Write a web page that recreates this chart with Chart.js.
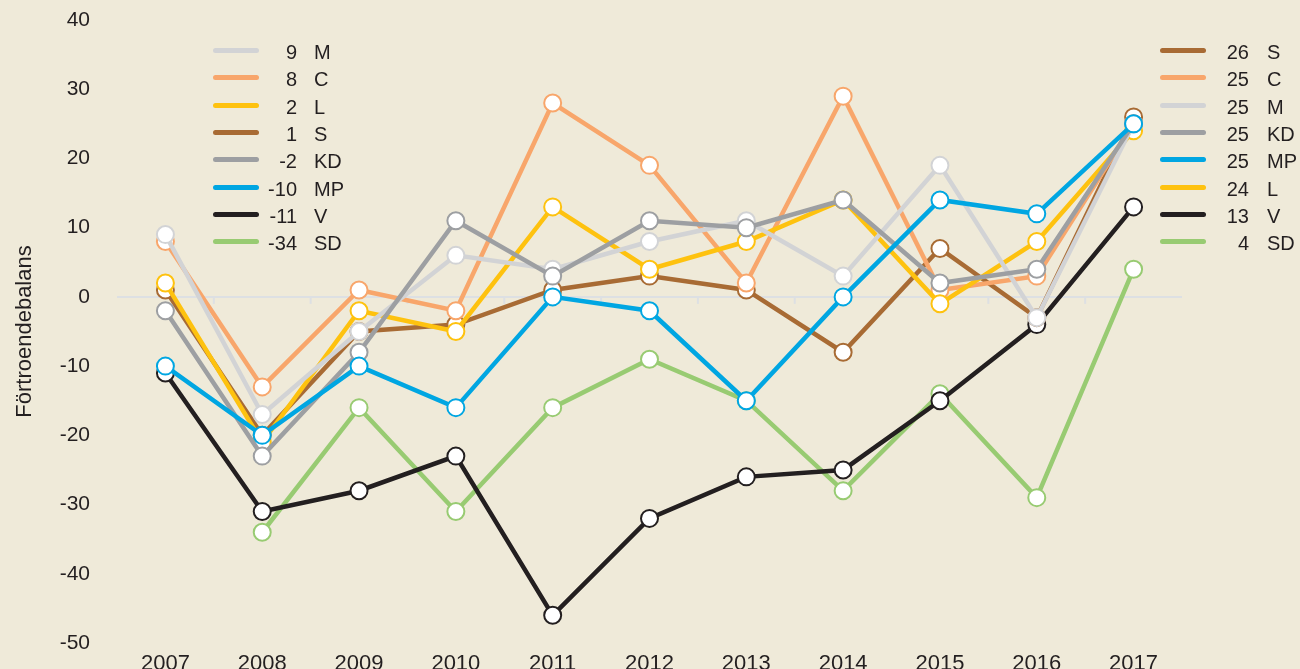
<!DOCTYPE html>
<html>
<head>
<meta charset="utf-8">
<script src="https://cdn.jsdelivr.net/npm/chart.js@4"></script>
<style>
  html, body { margin: 0; padding: 0; background: #efead9; }
  #wrap { position: relative; width: 1300px; height: 669px; overflow: hidden; }
  canvas { position: absolute; left: 0; top: 0; }
  .legend { position: absolute; font-family: "Liberation Sans", Arial, sans-serif; font-size: 20px; color: #231f20; }
  .row { position: absolute; height: 22px; line-height: 22px; white-space: nowrap; }
  .swatch { position: absolute; top: 7px; width: 46px; height: 5px; border-radius: 3px; }
  .val { position: absolute; text-align: right; left: 0; }
  .name { position: absolute; }
</style>
</head>
<body>
<div id="wrap">
  <canvas id="chart" width="1300" height="669"></canvas>
  <div class="legend" id="legendLeft"></div>
  <div class="legend" id="legendRight"></div>
</div>
<script>
const years = ['2007', '2008', '2009', '2010', '2011', '2012', '2013', '2014', '2015', '2016', '2017'];

const valuesS  = [1, -20, -5, -4, 1, 3, 1, -8, 7, -3, 26];
const valuesC  = [8, -13, 1, -2, 28, 19, 2, 29, 1, 3, 25];
const valuesM  = [9, -17, -5, 6, 4, 8, 11, 3, 19, -3, 25];
const valuesKD = [-2, -23, -8, 11, 3, 11, 10, 14, 2, 4, 25];
const valuesMP = [-10, -20, -10, -16, 0, -2, -15, 0, 14, 12, 25];
const valuesL  = [2, -21, -2, -5, 13, 4, 8, 14, -1, 8, 24];
const valuesV  = [-11, -31, -28, -23, -46, -32, -26, -25, -15, -4, 13];
const valuesSD = [null, -34, -16, -31, -16, -9, -15, -28, -14, -29, 4];

const yTicks = [40, 30, 20, 10, 0, -10, -20, -30, -40, -50];

const parties = [
    { name: 'S',  data: valuesS,  color: '#a86b34', order: 5 },
    { name: 'C',  data: valuesC,  color: '#f8a66b', order: 4 },
    { name: 'M',  data: valuesM,  color: '#d2d3d5', order: 2 },
    { name: 'KD', data: valuesKD, color: '#9d9fa2', order: 1 },
    { name: 'MP', data: valuesMP, color: '#00a6e2', order: 0 },
    { name: 'L',  data: valuesL,  color: '#fec20f', order: 3 },
    { name: 'V',  data: valuesV,  color: '#231f20', order: 6 },
    { name: 'SD', data: valuesSD, color: '#98cb72', order: 7 }
];

function firstValue(arr) {
    return arr.find(v => v !== null);
}

function buildLegend(el, left, valRight, nameLeft, valueOf) {
    const sorted = parties.slice().sort((a, b) => valueOf(b) - valueOf(a));
    sorted.forEach((p, i) => {
        const row = document.createElement('div');
        row.className = 'row';
        row.style.left = left + 'px';
        row.style.top = (41 + i * 27.3) + 'px';
        row.innerHTML =
            `<div class="swatch" style="left:0;background:${p.color}"></div>` +
            `<div class="val" style="width:${valRight}px">${valueOf(p)}</div>` +
            `<div class="name" style="left:${nameLeft}px">${p.name}</div>`;
        el.appendChild(row);
    });
}

buildLegend(document.getElementById('legendLeft'), 213, 84, 101, p => firstValue(p.data));
buildLegend(document.getElementById('legendRight'), 1160, 89, 107, p => p.data[p.data.length - 1]);

// small tick marks on the zero line between categories
const zeroTicks = {
    id: 'zeroTicks',
    beforeDatasetsDraw(chart) {
        const { ctx, scales: { x, y } } = chart;
        const y0 = y.getPixelForValue(0);
        ctx.save();
        ctx.strokeStyle = '#dde0e3';
        ctx.lineWidth = 2;
        for (let i = 0; i < years.length - 1; i++) {
            const px = (x.getPixelForValue(i) + x.getPixelForValue(i + 1)) / 2;
            ctx.beginPath();
            ctx.moveTo(px, y0);
            ctx.lineTo(px, y0 + 7);
            ctx.stroke();
        }
        ctx.restore();
    }
};

new Chart(document.getElementById('chart'), {
    type: 'line',
    data: {
        labels: years,
        datasets: parties.map(p => ({
            label: p.name,
            data: p.data,
            order: p.order,
            borderColor: p.color,
            borderWidth: 4.5,
            pointRadius: 8.5,
            pointBorderWidth: 2,
            pointBackgroundColor: '#ffffff',
            pointBorderColor: p.color,
            tension: 0
        }))
    },
    options: {
        responsive: false,
        animation: false,
        layout: { padding: { top: 20, right: 118, left: 0, bottom: 0 } },
        plugins: { legend: { display: false }, tooltip: { enabled: false } },
        scales: {
            x: {
                offset: true,
                grid: { display: false },
                border: { display: false },
                ticks: {
                    color: '#231f20',
                    padding: 0,
                    font: { family: 'Liberation Sans', size: 22 }
                },
                afterFit(scale) {
                    scale.height = 26;
                    scale.paddingLeft = 0;
                    scale.paddingRight = 0;
                }
            },
            y: {
                min: -50,
                max: 40,
                afterBuildTicks(scale) { scale.ticks = yTicks.map(v => ({ value: v })); },
                grid: {
                    drawTicks: false,
                    lineWidth: 2,
                    color: ctx => ctx.tick && ctx.tick.value === 0 ? '#dde0e3' : 'rgba(0,0,0,0)'
                },
                border: { display: false },
                ticks: {
                    color: '#231f20',
                    padding: 27,
                    font: { family: 'Liberation Sans', size: 21 }
                },
                title: {
                    display: true,
                    text: 'Förtroendebalans',
                    color: '#231f20',
                    padding: { top: 12, bottom: 0 },
                    font: { family: 'Liberation Sans', size: 22 }
                },
                afterFit(scale) {
                    scale.width = 117;
                    scale.paddingTop = 0;
                    scale.paddingBottom = 0;
                }
            }
        }
    },
    plugins: [zeroTicks]
});
</script>
</body>
</html>
